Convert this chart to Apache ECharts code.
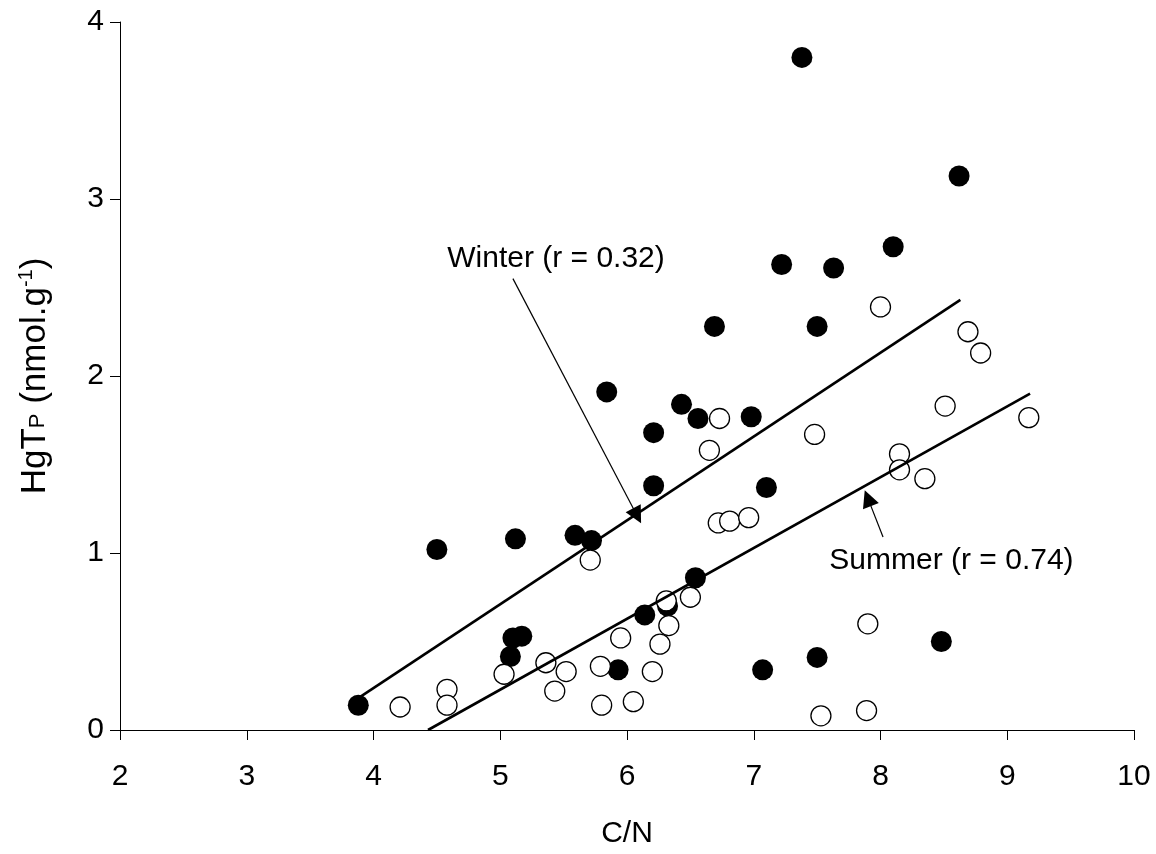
<!DOCTYPE html>
<html>
<head>
<meta charset="utf-8">
<script src="https://cdn.jsdelivr.net/npm/echarts@6/dist/echarts.min.js"></script>
<style>
  html, body { margin: 0; padding: 0; background: #fff; }
  #chart { width: 1156px; height: 854px; }
</style>
</head>
<body>
<div id="chart"></div>
<script>
// C/N ratio vs particulate mercury (HgT_P), winter and summer samples
const winterPoints = [
  [3.88, 0.14], [4.50, 1.02], [5.12, 1.08], [5.59, 1.10], [5.72, 1.07],
  [5.08, 0.415], [5.10, 0.52], [5.17, 0.53], [5.93, 0.34], [6.14, 0.65],
  [6.32, 0.70], [6.54, 0.86], [6.21, 1.38], [7.10, 1.37], [7.07, 0.34],
  [7.50, 0.41], [8.48, 0.50], [5.84, 1.91], [6.43, 1.84], [6.56, 1.76],
  [6.98, 1.77], [6.21, 1.68], [6.69, 2.28], [7.50, 2.28], [7.22, 2.63],
  [7.63, 2.61], [8.10, 2.73], [8.62, 3.13], [7.38, 3.80]
];
const summerPoints = [
  [4.21, 0.13], [4.58, 0.23], [4.58, 0.14], [5.03, 0.315], [5.36, 0.38],
  [5.43, 0.22], [5.52, 0.33], [5.79, 0.36], [5.80, 0.14], [6.05, 0.16],
  [6.20, 0.33], [5.95, 0.52], [6.26, 0.485], [6.33, 0.59], [6.31, 0.73],
  [6.50, 0.75], [5.71, 0.96], [6.72, 1.17], [6.81, 1.18], [6.96, 1.20],
  [6.65, 1.58], [6.73, 1.76], [7.48, 1.67], [8.00, 2.39], [8.69, 2.25],
  [8.79, 2.13], [8.51, 1.83], [9.17, 1.765], [8.15, 1.56], [8.15, 1.47],
  [8.35, 1.42], [7.90, 0.60], [7.53, 0.08], [7.89, 0.11]
];
// regression line end points
const winterFit = [[3.88, 0.18], [8.63, 2.43]];
const summerFit = [[4.43, 0.0], [9.18, 1.90]];
// annotation arrows: [tail, head]
const winterArrow = [[5.10, 2.55], [6.08, 1.21]];
const summerArrow = [[8.02, 1.09], [7.90, 1.31]];
// annotation texts and their anchor positions
const noteTexts = ['Winter (r = 0.32)', 'Summer (r = 0.74)'];
const notePositions = [[5.44, 2.66], [8.56, 0.955]];
// axis ticks
const xTicks = [2, 3, 4, 5, 6, 7, 8, 9, 10];
const yTicks = [0, 1, 2, 3, 4];

const FONT = 'Arial, "Liberation Sans", sans-serif';

function arrowMark(pair) {
  return {
    silent: true,
    symbol: ['none', 'triangle'],
    symbolSize: 17,
    label: { show: false },
    lineStyle: { color: '#000', width: 1.2, type: 'solid' },
    emphasis: { disabled: true },
    animation: false,
    data: [[
      { coord: pair[0], symbol: 'none' },
      { coord: pair[1], symbol: 'triangle', symbolSize: 17 }
    ]]
  };
}

const chart = echarts.init(document.getElementById('chart'), null, { renderer: 'canvas' });
chart.setOption({
  animation: false,
  backgroundColor: '#fff',
  grid: { left: 120, right: 22, top: 22, bottom: 122 },
  xAxis: {
    type: 'value',
    min: xTicks[0], max: xTicks[xTicks.length - 1], interval: 1,
    name: 'C/N',
    nameLocation: 'middle',
    nameGap: 89,
    nameTextStyle: { fontFamily: FONT, fontSize: 30, color: '#000' },
    axisLine: { lineStyle: { color: '#000', width: 1 } },
    axisTick: { inside: false, length: 10, lineStyle: { color: '#000' } },
    axisLabel: { fontFamily: FONT, fontSize: 30, color: '#000', margin: 32 },
    splitLine: { show: false }
  },
  yAxis: {
    type: 'value',
    min: yTicks[0], max: yTicks[yTicks.length - 1], interval: 1,
    name: '{a|HgT}{s|P}{a| (nmol.g}{u|-1}{a|)}',
    nameLocation: 'middle',
    nameGap: 66,
    nameRotate: 90,
    nameTextStyle: {
      color: '#000',
      rich: {
        a: { fontFamily: FONT, fontSize: 35, color: '#000', lineHeight: 38 },
        s: { fontFamily: FONT, fontSize: 22, color: '#000', verticalAlign: 'bottom', lineHeight: 38, padding: [0, 0, 5, 0] },
        u: { fontFamily: FONT, fontSize: 20, color: '#000', verticalAlign: 'top', lineHeight: 38 }
      }
    },
    axisLine: { show: true, lineStyle: { color: '#000', width: 1 } },
    axisTick: { show: true, inside: false, length: 10, lineStyle: { color: '#000' } },
    axisLabel: { fontFamily: FONT, fontSize: 30, color: '#000', margin: 16 },
    splitLine: { show: false }
  },
  series: [
    {
      name: 'Winter',
      type: 'scatter',
      data: winterPoints,
      symbol: 'circle',
      symbolSize: 21,
      itemStyle: { color: '#000', borderColor: '#000', borderWidth: 0, opacity: 1 },
      z: 2
    },
    {
      name: 'Summer',
      type: 'scatter',
      data: summerPoints,
      symbol: 'circle',
      symbolSize: 20,
      itemStyle: { color: '#fff', borderColor: '#000', borderWidth: 1.3, opacity: 1 },
      z: 3
    },
    {
      name: 'Winter fit',
      type: 'line',
      data: winterFit,
      showSymbol: false,
      symbol: 'none',
      lineStyle: { color: '#000', width: 2.6 },
      markLine: arrowMark(winterArrow),
      z: 4
    },
    {
      name: 'Summer fit',
      type: 'line',
      data: summerFit,
      showSymbol: false,
      symbol: 'none',
      lineStyle: { color: '#000', width: 2.6 },
      markLine: arrowMark(summerArrow),
      z: 4
    },
    {
      name: 'Notes',
      type: 'scatter',
      data: notePositions.map((p, i) => ({ value: p, name: noteTexts[i] })),
      symbolSize: 0,
      silent: true,
      itemStyle: { opacity: 1 },
      label: {
        show: true,
        position: 'inside',
        formatter: (p) => p.name,
        fontFamily: FONT,
        fontSize: 30,
        color: '#000',
        opacity: 1
      },
      z: 5
    }
  ]
});
</script>
</body>
</html>
